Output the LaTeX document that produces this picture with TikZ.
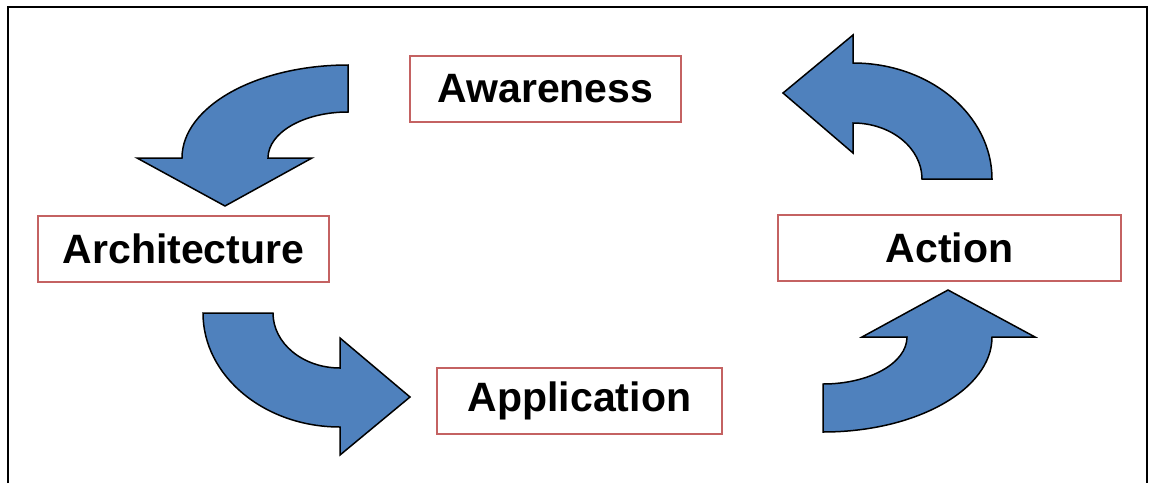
\documentclass[tikz,border=0pt]{standalone}
\usepackage{fontspec}
\setmainfont{Liberation Sans}
\usepackage{tikz}
\usetikzlibrary{positioning}
\definecolor{arrowblue}{HTML}{4F81BD}
\definecolor{boxred}{HTML}{C46262}

\begin{document}
\begin{tikzpicture}[x=1pt, y=-1pt, semithick,
    phase/.style={draw=boxred, line width=1.5pt, fill=white, inner sep=0pt,
        minimum height=66pt, font=\fontsize{41}{49}\selectfont\bfseries},
    bendarrow/.style={draw=black, line width=1.5pt, fill=arrowblue, line join=miter}]
    	\useasboundingbox (0,0) rectangle (1149,483);
    	\draw[line width=2pt] (8,483) -- (8,7) -- (1147,7) -- (1147,483);
    	% the four phases
    	\node[phase, minimum width=271pt] (aware) at (545.5,89) {Awareness};
    	\node[phase, minimum width=291pt] (arch) at (183.5,249) {Architecture};
    	\node[phase, minimum width=285pt] (appl) at (579.5,401) {Application};
    	\node[phase, minimum width=343pt] (act) at (949.5,248) {Action};
    	% curved block arrows
    	\draw[bendarrow] (348,65) .. controls (256.4,65) and (182,106.7) .. (182,158)
    		-- (137,158) -- (225,206) -- (312,158) -- (268,158)
    		.. controls (268,132.6) and (303.8,112) .. (348,112) -- cycle;
    	\draw[bendarrow] (203,313) .. controls (203,376) and (264.4,427) .. (340,427)
    		-- (340,455) -- (410,397) -- (340,338) -- (340,368)
    		.. controls (303,368) and (273,343.4) .. (273,313) -- cycle;
    	\draw[bendarrow] (823,432) .. controls (916.3,432) and (992,389.4) .. (992,337)
    		-- (1035,337) -- (948,290) -- (862,337) -- (907,337)
    		.. controls (907,363) and (869.4,384) .. (823,384) -- cycle;
    	\draw[bendarrow] (992,179) .. controls (992,115) and (929.7,63) .. (853,63)
    		-- (853,35) -- (783,93) -- (853,153) -- (853,123)
    		.. controls (891.1,123) and (922,148.1) .. (922,179) -- cycle;
    \end{tikzpicture}
\end{document}
